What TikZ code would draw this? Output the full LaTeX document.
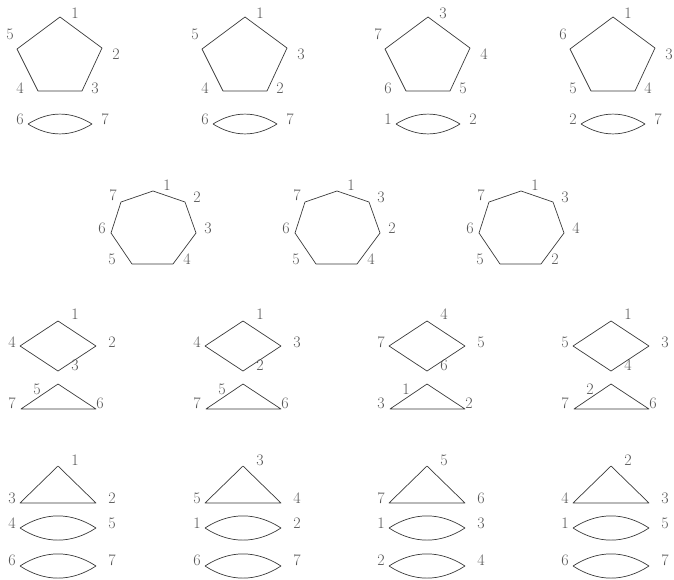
\documentclass[tikz,border=0pt]{standalone}
\usetikzlibrary{calc}
\definecolor{linec}{HTML}{3A3A3A}
\definecolor{labc}{HTML}{555555}
\tikzset{
  shp/.style={draw=linec, line width=0.7pt, line join=round},
  lbl/.style={text=labc, font=\fontsize{16}{16}\selectfont, inner sep=0pt},
}
\begin{document}
\begin{tikzpicture}[x=1pt,y=-1pt]
\useasboundingbox (0,0) rectangle (674,579);
% ---------- Row 1: pentagons with lens ----------
\foreach \dx/\a/\b/\c/\d/\e/\f/\g [count=\i] in {0/1/5/2/4/3/6/7, 185/1/5/3/4/2/6/7, 368/3/7/4/6/5/1/2, 553/1/6/3/5/4/2/7}{
  \begin{scope}[xshift=\dx pt]
    \coordinate (pa\i) at (60,17);
    \coordinate (pb\i) at (102,48);
    \coordinate (pc\i) at (82,91);
    \coordinate (pd\i) at (38,91);
    \coordinate (pe\i) at (17,49);
    \draw[shp] (pa\i) -- (pb\i) -- (pc\i) -- (pd\i) -- (pe\i) -- cycle;
    \node[lbl] (pla\i) at (75,13) {\a};
    \node[lbl] (plb\i) at (10,34) {\b};
    \node[lbl] (plc\i) at (116,54) {\c};
    \node[lbl] (pld\i) at (20,88) {\d};
    \node[lbl] (ple\i) at (95,88) {\e};
    \coordinate (la\i) at (28,124);
    \coordinate (lb\i) at (92,124);
    \draw[shp] (la\i) to[bend left=32] (lb\i) to[bend left=32] (la\i);
    \node[lbl] (llf\i) at (20,119) {\f};
    \node[lbl] (llg\i) at (105,119) {\g};
  \end{scope}
}
% ---------- Row 2: heptagons ----------
\foreach \dx/\b/\c/\d [count=\i] in {0/2/3/4, 184/3/2/4, 368/3/4/2}{
  \begin{scope}[xshift=\dx pt]
    \coordinate (ha\i) at (153,191);
    \coordinate (hb\i) at (185,202);
    \coordinate (hc\i) at (196,233);
    \coordinate (hd\i) at (173,264);
    \coordinate (he\i) at (132,264);
    \coordinate (hf\i) at (111,233);
    \coordinate (hg\i) at (121,202);
    \draw[shp] (ha\i) -- (hb\i) -- (hc\i) -- (hd\i) -- (he\i) -- (hf\i) -- (hg\i) -- cycle;
    \node[lbl] (hl1\i) at (167,185) {1};
    \node[lbl] (hl7\i) at (113,195) {7};
    \node[lbl] (hl6\i) at (102,228) {6};
    \node[lbl] (hl5\i) at (112,259) {5};
    \node[lbl] (hlb\i) at (197,197) {\b};
    \node[lbl] (hlc\i) at (208,228) {\c};
    \node[lbl] (hld\i) at (187,259) {\d};
  \end{scope}
}
% ---------- Row 3: diamonds with triangle ----------
\foreach \dx/\a/\b/\c/\d/\e/\f/\g [count=\i] in {0/1/4/2/3/5/7/6, 185/1/4/3/2/5/7/6, 369/4/7/5/6/1/3/2, 553/1/5/3/4/2/7/6}{
  \begin{scope}[xshift=\dx pt]
    \coordinate (da\i) at (58,321);
    \coordinate (db\i) at (96,346);
    \coordinate (dc\i) at (58,371);
    \coordinate (dd\i) at (20,346);
    \draw[shp] (da\i) -- (db\i) -- (dc\i) -- (dd\i) -- cycle;
    \node[lbl] (dla\i) at (75,314) {\a};
    \node[lbl] (dlb\i) at (12,342) {\b};
    \node[lbl] (dlc\i) at (112,342) {\c};
    \node[lbl] (dld\i) at (75,365) {\d};
    \coordinate (ta\i) at (58,384);
    \coordinate (tb\i) at (96,409);
    \coordinate (tc\i) at (21,409);
    \draw[shp] (ta\i) -- (tb\i) -- (tc\i) -- cycle;
    \node[lbl] (tle\i) at (37,389) {\e};
    \node[lbl] (tlf\i) at (12,403) {\f};
    \node[lbl] (tlg\i) at (100,403) {\g};
  \end{scope}
}
% ---------- Row 4: triangle with two lenses ----------
\foreach \dx/\a/\b/\c/\d/\e/\f/\g [count=\i] in {0/1/3/2/4/5/6/7, 185/3/5/4/1/2/6/7, 369/5/7/6/1/3/2/4, 553/2/4/3/1/5/6/7}{
  \begin{scope}[xshift=\dx pt]
    \coordinate (ra\i) at (58,466);
    \coordinate (rb\i) at (96,503);
    \coordinate (rc\i) at (20,503);
    \draw[shp] (ra\i) -- (rb\i) -- (rc\i) -- cycle;
    \node[lbl] (rla\i) at (75,460) {\a};
    \node[lbl] (rlb\i) at (12,498) {\b};
    \node[lbl] (rlc\i) at (112,498) {\c};
    \coordinate (ma\i) at (20,528);
    \coordinate (mb\i) at (96,528);
    \draw[shp] (ma\i) to[bend left=33] (mb\i) to[bend left=33] (ma\i);
    \node[lbl] (mld\i) at (12,523) {\d};
    \node[lbl] (mle\i) at (112,523) {\e};
    \coordinate (na\i) at (20,566);
    \coordinate (nb\i) at (96,566);
    \draw[shp] (na\i) to[bend left=33] (nb\i) to[bend left=33] (na\i);
    \node[lbl] (nlf\i) at (12,560) {\f};
    \node[lbl] (nlg\i) at (112,560) {\g};
  \end{scope}
}
\end{tikzpicture}
\end{document}
